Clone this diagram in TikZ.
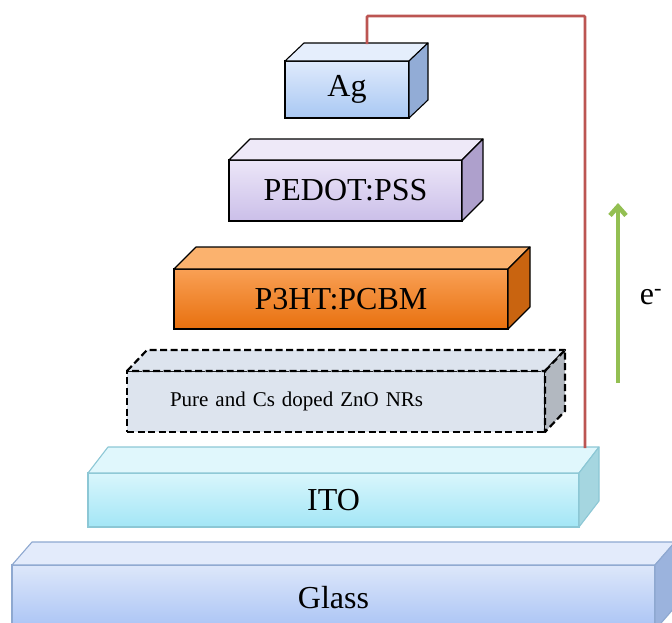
\documentclass[tikz,border=0pt]{standalone}
\usepackage{fontspec}
\setmainfont{Liberation Serif}
\usetikzlibrary{arrows.meta,calc,positioning}
\definecolor{wirered}{HTML}{BC5552}
\definecolor{flowgreen}{HTML}{93BF52}
\definecolor{glassE}{HTML}{8EA8D0}
\definecolor{glassA}{HTML}{DDE7FA}
\definecolor{glassB}{HTML}{A9C3F5}
\definecolor{glassT}{HTML}{E3EBFB}
\definecolor{glassS}{HTML}{9BB3DD}
\definecolor{itoE}{HTML}{8CC7D5}
\definecolor{itoA}{HTML}{D9F6FC}
\definecolor{itoB}{HTML}{A3E6F6}
\definecolor{itoT}{HTML}{E0F7FC}
\definecolor{itoS}{HTML}{A5D6E0}
\definecolor{znoA}{HTML}{DDE4EE}
\definecolor{znoS}{HTML}{B2B8C0}
\definecolor{p3A}{HTML}{F9A055}
\definecolor{p3B}{HTML}{E8700E}
\definecolor{p3T}{HTML}{FBB26E}
\definecolor{p3S}{HTML}{C96410}
\definecolor{pedA}{HTML}{ECE6F8}
\definecolor{pedB}{HTML}{CBBFE9}
\definecolor{pedT}{HTML}{EEE9F8}
\definecolor{pedS}{HTML}{AEA0CC}
\definecolor{agA}{HTML}{DFEAFC}
\definecolor{agB}{HTML}{A9C8F3}
\definecolor{agT}{HTML}{E5EEFC}
\definecolor{agS}{HTML}{92ACD6}
\tikzset{
    layer/.style = {draw, line width=1.1pt, outer sep=0pt, inner sep=0pt, font=\fontsize{32}{34}\selectfont},
    face/.style = {line width=1.1pt, line join=round},
    nrs/.style = {line width=2.2pt, dash pattern=on 7pt off 3.5pt},
    wire/.style = {draw=wirered, line width=2.8pt, rounded corners=1pt},
    flow/.style = {-{Straight Barb[length=9pt,width=16pt]}, line width=4.6pt, draw=flowgreen}
}

\begin{document}
\begin{tikzpicture}[x=1pt,y=-1pt]
    \clip (0,0) rectangle (672,622);

    % glass substrate
    \node[layer, draw=glassE, top color=glassA, bottom color=glassB, minimum width=643, minimum height=65] (glass) at (333.5,597.5) {Glass};
    \filldraw[face, draw=glassE, fill=glassT] (glass.north west) -- ++(20,-23) -- ++(643,0) -- (glass.north east) -- cycle;
    \filldraw[face, draw=glassE, fill=glassS] (glass.north east) -- ++(20,-23) -- ++(0,65) -- (glass.south east) -- cycle;

    % ITO
    \node[layer, draw=itoE, top color=itoA, bottom color=itoB, minimum width=491, minimum height=54] (ito) at (333.5,500) {ITO};
    \filldraw[face, draw=itoE, fill=itoT] (ito.north west) -- ++(20,-26) -- ++(491,0) -- (ito.north east) -- cycle;
    \filldraw[face, draw=itoE, fill=itoS] (ito.north east) -- ++(20,-26) -- ++(0,54) -- (ito.south east) -- cycle;

    % ZnO nanorods
    \node[layer, nrs, fill=znoA, minimum width=418, minimum height=61,
          text width=332, align=left, font=\fontsize{21}{24}\selectfont] (zno) at (336,401.5) {Pure and Cs doped ZnO NRs};
    \filldraw[face, nrs, fill=znoA] (zno.north west) -- ++(20,-21) -- ++(418,0) -- (zno.north east) -- cycle;
    \filldraw[face, nrs, fill=znoS] (zno.north east) -- ++(20,-21) -- ++(0,61) -- (zno.south east) -- cycle;

    % active layer
    \node[layer, top color=p3A, bottom color=p3B, minimum width=334, minimum height=60] (p3ht) at (341,299) {P3HT:PCBM};
    \filldraw[face, fill=p3T] (p3ht.north west) -- ++(22,-22) -- ++(334,0) -- (p3ht.north east) -- cycle;
    \filldraw[face, fill=p3S] (p3ht.north east) -- ++(22,-22) -- ++(0,60) -- (p3ht.south east) -- cycle;

    % hole transport layer
    \node[layer, top color=pedA, bottom color=pedB, minimum width=233, minimum height=61] (pedot) at (345.5,190.5) {PEDOT:PSS};
    \filldraw[face, fill=pedT] (pedot.north west) -- ++(21,-21) -- ++(233,0) -- (pedot.north east) -- cycle;
    \filldraw[face, fill=pedS] (pedot.north east) -- ++(21,-21) -- ++(0,61) -- (pedot.south east) -- cycle;

    % top contact
    \node[layer, top color=agA, bottom color=agB, minimum width=124, minimum height=57] (ag) at (347,89.5) {Ag};
    \filldraw[face, fill=agT] (ag.north west) -- ++(19,-18) -- ++(124,0) -- (ag.north east) -- cycle;
    \filldraw[face, fill=agS] (ag.north east) -- ++(19,-18) -- ++(0,57) -- (ag.south east) -- cycle;

    % external circuit
    \coordinate (agc) at (367,44);
    \coordinate (itoc) at (585,448);
    \draw[wire] (agc) -- ++(0,-28) -| (itoc);

    % electron flow
    \coordinate (eb) at (618,383);
    \coordinate (et) at (618,203);
    \draw[flow] (eb) -- (et);
    \node[font=\fontsize{32}{34}\selectfont] (elec) at (651,297) {e\textsuperscript{-}};
\end{tikzpicture}
\end{document}
